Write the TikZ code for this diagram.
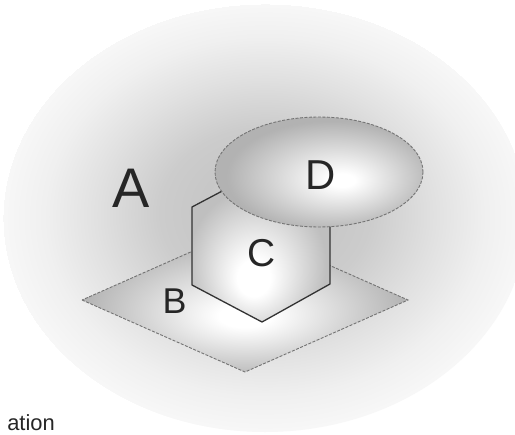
\documentclass[tikz,border=0pt]{standalone}
\usepackage{fontspec}
\setmainfont{Liberation Sans}

% soft halo of region A: grey ring round the middle, paling towards the rim
\pgfdeclareradialshading{halo}{\pgfpoint{0bp}{1bp}}{%
  color(0bp)=(black!17); color(6bp)=(black!22); color(10bp)=(black!20);
  color(16bp)=(black!12); color(21bp)=(black!6); color(25bp)=(black!3)}
% flat plate B, brightest just below its middle
\pgfdeclareradialshading{plate}{\pgfpoint{0bp}{-6bp}}{%
  color(0bp)=(white); color(4bp)=(white); color(25bp)=(black!30);
  color(50bp)=(black!30)}
% hexagonal prism C, brightest towards its lower left
\pgfdeclareradialshading{prism}{\pgfpoint{-3bp}{-12bp}}{%
  color(0bp)=(white); color(6bp)=(white); color(25bp)=(black!25);
  color(50bp)=(black!25)}
% disc D, brightest right of its centre
\pgfdeclareradialshading{disc}{\pgfpoint{6bp}{-4bp}}{%
  color(0bp)=(white); color(3bp)=(white); color(25bp)=(black!30);
  color(50bp)=(black!30)}

\tikzset{
  rimdash/.style={draw=black!55, line width=0.9bp, dash pattern=on 3bp off 1.5bp},
  hexrim/.style={draw=black!80, line width=1.3bp, line join=miter},
  setlabel/.style={inner sep=0pt, anchor=base, text=black!85},
}

\begin{document}
\begin{tikzpicture}[x=1bp, y=-1bp]
  \useasboundingbox (0,0) rectangle (515,435);
  \fill[white] (0,0) rectangle (515,435);

  % region A
  \begin{scope}
    \clip (0,0) rectangle (515,435);
    \shade[shading=halo] (265,218) ellipse [x radius=262, y radius=214];
  \end{scope}

  % plate B
  \coordinate (bL) at (82,300);
  \coordinate (bB) at (245,372);
  \coordinate (bR) at (408,300);
  \coordinate (bT) at (245,228);
  \shadedraw[shading=plate, rimdash] (bL) -- (bB) -- (bR) -- (bT) -- cycle;

  % prism C
  \coordinate (c1) at (192,207);
  \coordinate (c2) at (262,170);
  \coordinate (c3) at (330,207);
  \coordinate (c4) at (330,284);
  \coordinate (c5) at (262,322);
  \coordinate (c6) at (192,285);
  \shadedraw[shading=prism, hexrim] (c1) -- (c2) -- (c3) -- (c4) -- (c5) -- (c6) -- cycle;

  % disc D
  \coordinate (dC) at (319,172);
  \shadedraw[shading=disc, rimdash] (dC) ellipse [x radius=104, y radius=55];

  % labels
  \node[setlabel, font=\fontsize{56}{60}\selectfont] (labA) at (131,208) {A};
  \node[setlabel, font=\fontsize{36}{40}\selectfont] (labB) at (174.5,313) {B};
  \node[setlabel, font=\fontsize{39}{43}\selectfont] (labC) at (261.5,266) {C};
  \node[setlabel, font=\fontsize{42}{46}\selectfont] (labD) at (320.5,190) {D};

  % caption at the lower edge
  \node[inner sep=0pt, anchor=base east, text=black!85,
        font=\fontsize{22}{26}\selectfont] (cap) at (55,430.5) {ation};
\end{tikzpicture}
\end{document}
